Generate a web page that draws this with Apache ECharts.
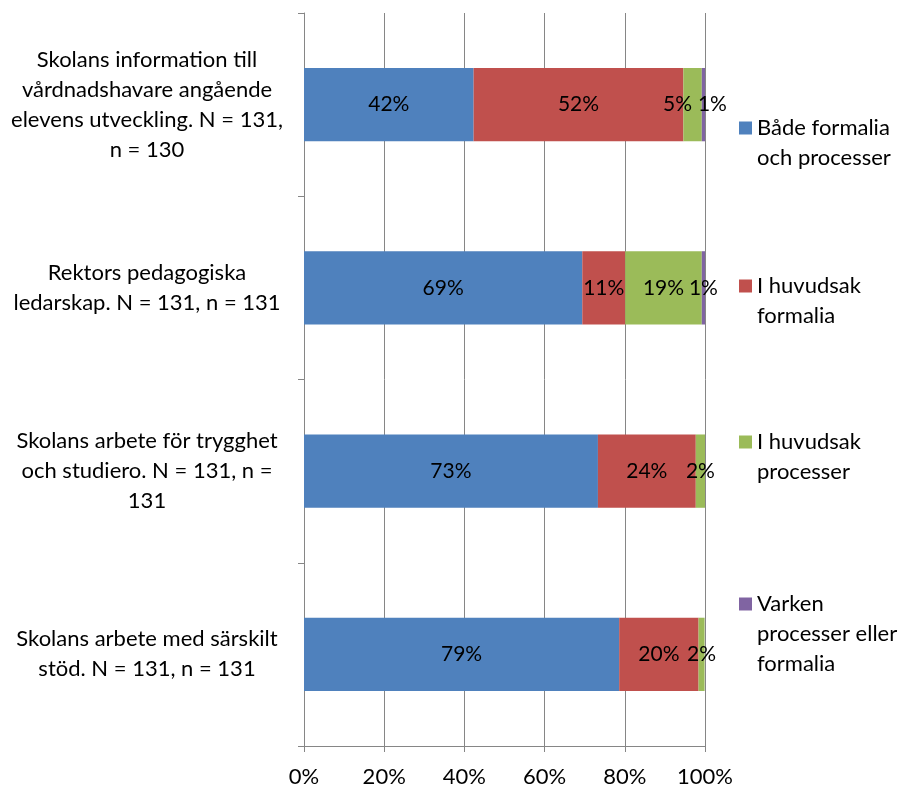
<!DOCTYPE html>
<html><head><meta charset="utf-8">
<script src="https://cdn.jsdelivr.net/npm/echarts@6/dist/echarts.min.js"></script>
<style>html,body{margin:0;padding:0;background:#fff}#c{width:902px;height:788px}</style>
</head><body><div id="c"></div>
<script>
const categories = [
  "Skolans information till\nvårdnadshavare angående\nelevens utveckling. N = 131,\nn = 130",
  "Rektors pedagogiska\nledarskap. N = 131, n = 131",
  "Skolans arbete för trygghet\noch studiero. N = 131, n =\n131",
  "Skolans arbete med särskilt\nstöd. N = 131, n = 131"
];
const seriesNames = [
  "Både formalia\noch processer",
  "I huvudsak\nformalia",
  "I huvudsak\nprocesser",
  "Varken\nprocesser eller\nformalia"
];
const bothValues = [42.3, 69.4, 73.3, 78.6];
const formaliaValues = [52.3, 10.7, 24.4, 19.8];
const processValues = [4.6, 19.1, 2.3, 1.5];
const neitherValues = [0.8, 0.8, 0, 0];
const xTicks = [0, 20, 40, 60, 80, 100];

const colors = ['#4F81BD', '#C0504D', '#9BBB59', '#8064A2'];
const FONT = 'Lato';
// label nudges for crowded small segments (style only)
const labelNudge = { '2-0': [-15, 0], '3-0': [9, 0] };

const allValues = [bothValues, formaliaValues, processValues, neitherValues];
const series = allValues.map((vals, si) => ({
  name: seriesNames[si],
  type: 'bar',
  stack: 'total',
  barCategoryGap: '60%',
  itemStyle: { color: colors[si] },
  label: {
    show: true, position: 'inside', color: '#000', fontSize: 21, fontFamily: FONT,
    formatter: p => p.value > 0 ? Math.round(p.value) + '%' : ''
  },
  data: vals.map((v, di) => {
    const k = si + '-' + di;
    return labelNudge[k] ? { value: v, label: { offset: labelNudge[k] } } : v;
  })
}));

const legendTops = [83, 241, 397, 529];
const legends = seriesNames.map((n, i) => ({
  data: [n], orient: 'vertical', left: 739, top: legendTops[i], padding: 0,
  itemWidth: 13, itemHeight: 13, icon: 'rect', selectedMode: false,
  // prepend blank lines so the marker sits beside the first text line
  formatter: name => '\n'.repeat(name.split('\n').length - 1) + name,
  textStyle: { fontSize: 22, lineHeight: 30, color: '#000', fontFamily: FONT }
}));

const chart = echarts.init(document.getElementById('c'));
chart.setOption({
  animation: false,
  backgroundColor: '#fff',
  grid: { left: 304, right: 197, top: 13, bottom: 42 },
  legend: legends,
  xAxis: {
    type: 'value', min: xTicks[0], max: xTicks[xTicks.length - 1], interval: xTicks[1] - xTicks[0],
    axisLine: { show: true, lineStyle: { color: '#868686' } },
    axisTick: { show: true, length: 6, lineStyle: { color: '#868686' } },
    splitLine: { show: true, lineStyle: { color: '#868686' } },
    axisLabel: { formatter: '{value}%', fontSize: 22, color: '#000', fontFamily: FONT, margin: 20 }
  },
  yAxis: {
    type: 'category', data: categories, inverse: true,
    axisLine: { show: true, lineStyle: { color: '#868686' } },
    axisTick: { show: true, length: 6, lineStyle: { color: '#868686' } },
    axisLabel: { fontSize: 22, lineHeight: 30, color: '#000', fontFamily: FONT, align: 'center', margin: 157, padding: [10, 0, 0, 0] }
  },
  series: series
});
</script></body></html>
